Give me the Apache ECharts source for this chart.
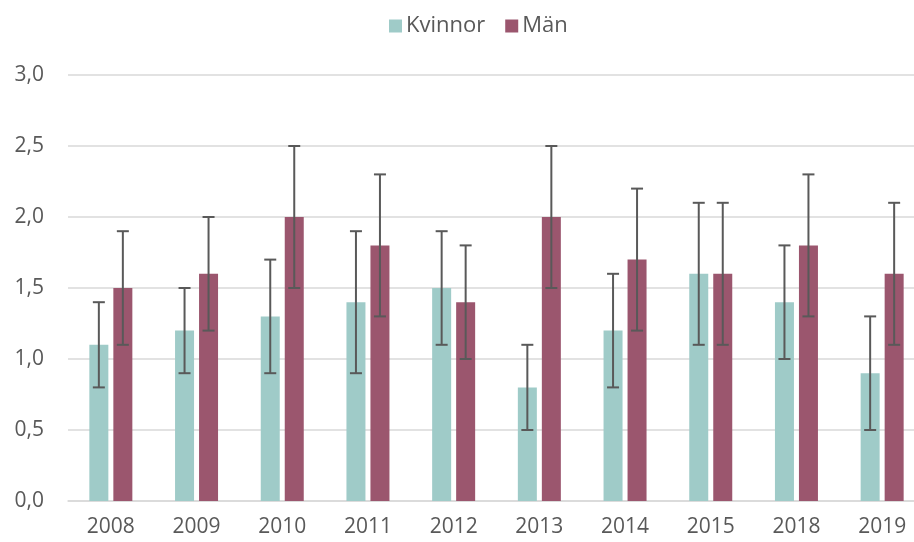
<!DOCTYPE html>
<html>
<head>
<meta charset="utf-8">
<script src="https://cdn.jsdelivr.net/npm/echarts@6/dist/echarts.min.js"></script>
<style>html,body{margin:0;padding:0;background:#fff;overflow:hidden}</style>
</head>
<body>
<div id="chart" style="width:914px;height:542px;"></div>
<script>
// data
var years = ['2008', '2009', '2010', '2011', '2012', '2013', '2014', '2015', '2018', '2019'];
var kvinnor = [1.1, 1.2, 1.3, 1.4, 1.5, 0.8, 1.2, 1.6, 1.4, 0.9];
var kvinnorLow = [0.8, 0.9, 0.9, 0.9, 1.1, 0.5, 0.8, 1.1, 1.0, 0.5];
var kvinnorHigh = [1.4, 1.5, 1.7, 1.9, 1.9, 1.1, 1.6, 2.1, 1.8, 1.3];
var man = [1.5, 1.6, 2.0, 1.8, 1.4, 2.0, 1.7, 1.6, 1.8, 1.6];
var manLow = [1.1, 1.2, 1.5, 1.3, 1.0, 1.5, 1.2, 1.1, 1.3, 1.1];
var manHigh = [1.9, 2.0, 2.5, 2.3, 1.8, 2.5, 2.2, 2.1, 2.3, 2.1];

var BAR_W = 19, GAP = 5;
var textColor = '#595959';
var font = 'Open Sans';

function errorSeries(low, high, offset) {
    return {
        type: 'custom',
        z: 10,
        silent: true,
        data: years.map(function (y, i) { return [i, low[i], high[i]]; }),
        renderItem: function (params, api) {
            var lo = api.coord([api.value(0), api.value(1)]);
            var hi = api.coord([api.value(0), api.value(2)]);
            var x = lo[0] + offset;
            var cap = 6;
            var st = { stroke: '#595959', lineWidth: 2 };
            return {
                type: 'group',
                children: [
                    { type: 'line', shape: { x1: x, y1: hi[1], x2: x, y2: lo[1] }, style: st },
                    { type: 'line', shape: { x1: x - cap, y1: hi[1], x2: x + cap, y2: hi[1] }, style: st },
                    { type: 'line', shape: { x1: x - cap, y1: lo[1], x2: x + cap, y2: lo[1] }, style: st }
                ]
            };
        }
    };
}

var option = {
    animation: false,
    textStyle: { fontFamily: font, color: textColor },
    legend: {
        top: 10,
        left: 384,
        itemWidth: 13,
        itemHeight: 13,
        itemGap: 20,
        icon: 'rect',
        textStyle: { fontSize: 22, color: textColor, fontFamily: font, padding: [0, 0, 0, -1] },
        data: ['Kvinnor', 'Män']
    },
    grid: { left: 68, right: -11, top: 75, bottom: 41, outerBoundsMode: 'none' },
    xAxis: {
        type: 'category',
        data: years,
        axisTick: { show: false },
        axisLine: { lineStyle: { color: '#d9d9d9', width: 1.5 } },
        axisLabel: { fontSize: 21, color: textColor, margin: 16 }
    },
    yAxis: {
        type: 'value',
        min: 0,
        max: 3,
        interval: 0.5,
        axisLine: { show: false },
        axisTick: { show: false },
        splitLine: { lineStyle: { color: '#d9d9d9', width: 1.5 } },
        axisLabel: {
            fontSize: 21,
            color: textColor,
            margin: 24,
            formatter: function (v) { return v.toFixed(1).replace('.', ','); }
        }
    },
    series: [
        {
            name: 'Kvinnor',
            type: 'bar',
            data: kvinnor,
            barWidth: BAR_W,
            barGap: (GAP / BAR_W * 100) + '%',
            itemStyle: { color: '#9fcbc8' }
        },
        {
            name: 'Män',
            type: 'bar',
            data: man,
            barWidth: BAR_W,
            itemStyle: { color: '#9b566e' }
        },
        errorSeries(kvinnorLow, kvinnorHigh, -(BAR_W + GAP) / 2),
        errorSeries(manLow, manHigh, (BAR_W + GAP) / 2)
    ]
};

var myChart = echarts.init(document.getElementById('chart'));
myChart.setOption(option);
</script>
</body>
</html>
